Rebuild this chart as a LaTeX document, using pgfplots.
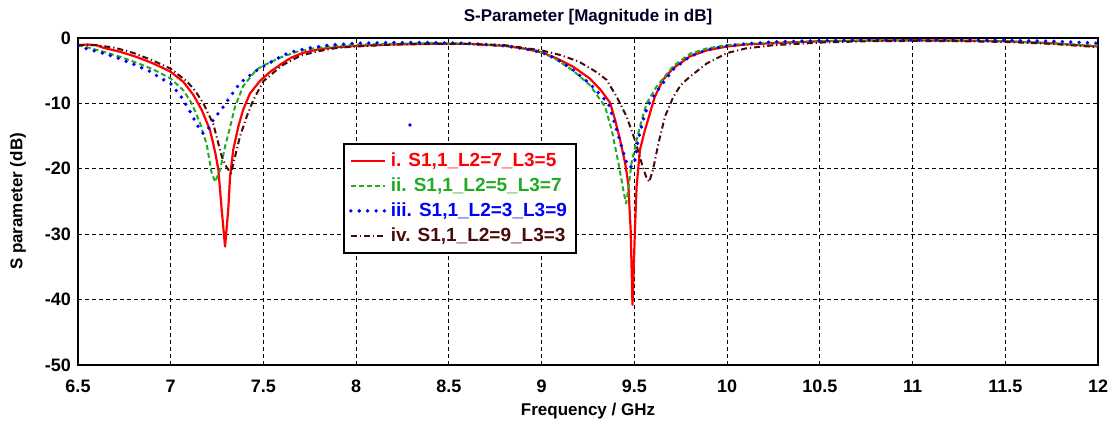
\documentclass[border=0pt]{standalone}
\usepackage{fontspec}
\setmainfont{Liberation Sans}
\usepackage{pgfplots}
\pgfplotsset{compat=1.18}
\definecolor{cred}{HTML}{FF0000}
\definecolor{cgreen}{HTML}{22AA22}
\definecolor{cblue}{HTML}{0000FF}
\definecolor{cbrown}{HTML}{4A0A0A}
\begin{document}
\begin{tikzpicture}
\begin{axis}[
  scale only axis, width=510pt, height=163.5pt,
  xmin=6.5, xmax=12, ymin=-50, ymax=0,
  xtick={6.5,7,...,12}, ytick={-50,-40,...,0},
  /pgf/number format/assume math mode=true,
  tick label style={font=\fontsize{9}{10}\selectfont\bfseries},
  xticklabel style={yshift=-4pt},
  major tick length=0pt,
  grid=major,
  grid style={black, line width=0.45pt, dash pattern=on 2pt off 1.5pt},
  axis line style={black, line width=0.9pt},
  every axis title shift=0pt,
  title={S-Parameter [Magnitude in dB]},
  title style={at={(axis description cs:0.5,1.064)}, anchor=center,
    font=\fontsize{8.5}{10}\selectfont\bfseries, text=black!85!blue},
  xlabel={Frequency / GHz},
  xlabel style={at={(axis description cs:0.5,-0.1407)}, anchor=center,
    font=\fontsize{8.5}{10}\selectfont\bfseries},
  ylabel={S parameter (dB)},
  ylabel style={at={(axis description cs:-0.0588,0.5)}, anchor=center,
    font=\fontsize{8.5}{10}\selectfont\bfseries},
  legend style={at={(axis cs:7.927,-16)}, anchor=north west,
    draw=black, line width=1.3pt, fill=white, inner sep=2.5pt,
    row sep=0pt,
    font=\fontsize{9.5}{10}\selectfont\bfseries},
  legend cell align=left,
  every axis plot/.append style={line join=round},
]
% i.
\addplot[cred, line width=1.1pt] coordinates {
(6.50,-1.1) (6.55,-1.0) (6.60,-1.1) (6.637,-1.5) (6.726,-2.1) (6.816,-2.9)
(6.906,-3.9) (6.996,-5.1) (7.068,-6.7) (7.122,-8.7) (7.167,-11.0) (7.212,-14.1)
(7.24,-17.5) (7.257,-20.2) (7.275,-26.3) (7.293,-31.9) (7.31,-26.3) (7.32,-21.2)
(7.337,-17.1) (7.364,-13.6) (7.39,-11.0) (7.427,-8.5) (7.48,-6.6) (7.535,-5.2)
(7.60,-3.9) (7.65,-3.0) (7.71,-2.3) (7.80,-1.7) (7.90,-1.4) (8.00,-1.2)
(8.20,-1.0) (8.40,-0.9) (8.60,-0.9) (8.80,-1.2) (8.90,-1.6) (9.00,-2.2)
(9.08,-3.1) (9.17,-4.4) (9.26,-6.2) (9.32,-8.0) (9.369,-9.9) (9.396,-12.5)
(9.423,-15.6) (9.45,-19.1) (9.467,-22.2) (9.48,-29.4) (9.49,-40.8) (9.503,-29.4)
(9.512,-22.7) (9.53,-17.1) (9.557,-14.1) (9.584,-11.5) (9.61,-9.0) (9.654,-6.4)
(9.71,-4.6) (9.80,-2.8) (9.89,-1.9) (10.0,-1.3) (10.1,-1.0) (10.25,-0.8)
(10.5,-0.5) (10.75,-0.4) (11.0,-0.35) (11.25,-0.4) (11.5,-0.5) (11.75,-0.8)
(12.0,-1.3)};
% ii.
\addplot[cgreen, line width=1pt, dash pattern=on 2.5pt off 1.5pt] coordinates {
(6.50,-1.1) (6.547,-1.4) (6.637,-2.1) (6.73,-2.9) (6.817,-3.8) (6.906,-4.8)
(7.0,-6.2) (7.068,-8.0) (7.113,-10.0) (7.158,-13.0) (7.194,-16.3) (7.22,-20.5)
(7.239,-22.0) (7.266,-20.2) (7.293,-16.6) (7.32,-13.6) (7.347,-10.5) (7.39,-7.4)
(7.46,-4.9) (7.5,-4.2) (7.59,-3.0) (7.68,-2.1) (7.77,-1.6) (7.9,-1.2)
(8.0,-1.0) (8.2,-0.9) (8.4,-0.8) (8.6,-0.85) (8.8,-1.2) (8.9,-1.6)
(9.0,-2.2) (9.08,-3.3) (9.17,-5.0) (9.26,-7.2) (9.342,-10.5) (9.378,-14.1)
(9.414,-19.1) (9.44,-23.2) (9.455,-25.3) (9.467,-23.2) (9.485,-19.1) (9.512,-15.6)
(9.54,-12.5) (9.566,-10.0) (9.62,-7.4) (9.71,-4.3) (9.80,-2.4) (9.89,-1.6)
(10.0,-1.1) (10.1,-0.9) (10.25,-0.7) (10.5,-0.5) (10.75,-0.4) (11.0,-0.35)
(11.25,-0.4) (11.5,-0.5) (11.75,-0.8) (12.0,-1.2)};
% iii.
\addplot[cblue, line width=1.9pt, line cap=round, dash pattern=on 0pt off 4.2pt] coordinates {
(6.50,-1.3) (6.565,-1.8) (6.619,-2.2) (6.70,-2.9) (6.79,-3.9) (6.888,-5.1)
(6.95,-6.2) (7.0,-7.0) (7.05,-8.7) (7.1,-11.0) (7.14,-13.2) (7.175,-14.6)
(7.20,-14.0) (7.23,-12.5) (7.284,-10.5) (7.32,-9.0) (7.373,-6.9) (7.454,-5.1)
(7.57,-3.2) (7.64,-2.2) (7.73,-1.6) (7.86,-1.07) (8.0,-0.8) (8.2,-0.7)
(8.4,-0.7) (8.6,-0.8) (8.8,-1.2) (8.9,-1.6) (9.0,-2.2) (9.08,-3.2)
(9.17,-4.9) (9.26,-7.0) (9.36,-10.0) (9.405,-14.1) (9.45,-18.4) (9.467,-19.7)
(9.485,-19.7) (9.503,-18.7) (9.52,-15.6) (9.548,-12.5) (9.575,-10.2) (9.62,-8.2)
(9.71,-4.8) (9.80,-2.8) (9.89,-1.8) (10.0,-1.2) (10.1,-0.9) (10.25,-0.6)
(10.5,-0.4) (10.75,-0.3) (11.0,-0.3) (11.25,-0.3) (11.5,-0.35) (11.75,-0.5)
(12.0,-0.8)};
% iv.
\addplot[cbrown, line width=1pt, dash pattern=on 3pt off 1.5pt on 0.6pt off 1.5pt] coordinates {
(6.50,-1.1) (6.6,-1.1) (6.7,-1.5) (6.8,-2.3) (6.9,-3.4) (7.0,-4.7)
(7.086,-6.6) (7.13,-8.0) (7.176,-10.0) (7.23,-13.2) (7.275,-18.1) (7.30,-19.7)
(7.325,-20.7) (7.347,-18.1) (7.373,-15.1) (7.41,-12.0) (7.445,-9.5) (7.5,-6.6)
(7.6,-4.2) (7.7,-2.7) (7.8,-2.0) (7.9,-1.5) (8.0,-1.3) (8.2,-1.0)
(8.4,-0.9) (8.6,-0.9) (8.8,-1.1) (9.0,-1.9) (9.1,-2.6) (9.2,-3.6)
(9.26,-4.6) (9.3,-5.3) (9.35,-6.4) (9.405,-9.0) (9.458,-12.0) (9.503,-15.6)
(9.54,-19.2) (9.563,-21.2) (9.58,-22.0) (9.60,-20.2) (9.63,-16.1) (9.665,-12.0)
(9.71,-9.0) (9.75,-7.2) (9.80,-5.9) (9.89,-3.9) (10.0,-2.3) (10.1,-1.6)
(10.25,-1.1) (10.5,-0.7) (10.75,-0.5) (11.0,-0.45) (11.25,-0.5) (11.5,-0.6)
(11.75,-0.9) (12.0,-1.4)};
\addplot[cblue, only marks, mark=*, mark size=0.7pt, forget plot] coordinates {(8.29,-13.3)};
\legend{\textcolor{cred}{i. S1,1\_L2=7\_L3=5},
        \textcolor{cgreen}{ii. S1,1\_L2=5\_L3=7},
        \textcolor{cblue}{iii. S1,1\_L2=3\_L3=9},
        \textcolor{cbrown}{iv. S1,1\_L2=9\_L3=3}}
\end{axis}
\pgfresetboundingbox
\path (current axis.south west) ++(-39pt,-30.5pt) coordinate (bbA);
\path (current axis.north east) ++(11pt,19pt) coordinate (bbB);
\path (bbA) rectangle (bbB);
\end{tikzpicture}
\end{document}
